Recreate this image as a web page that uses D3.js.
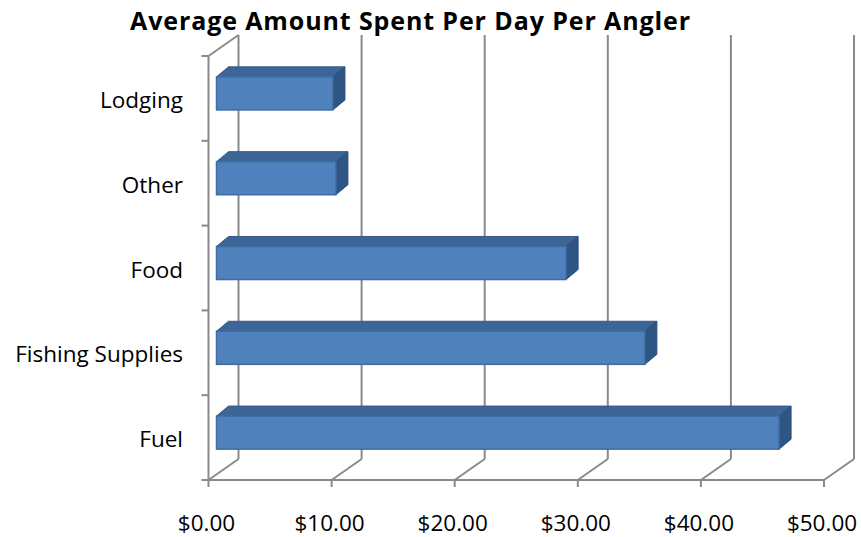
<!DOCTYPE html>
<html>
<head>
<meta charset="utf-8">
<script src="https://cdn.jsdelivr.net/npm/d3@7"></script>
<style>
  html, body { margin: 0; padding: 0; background: #fff; }
  svg { display: block; }
</style>
</head>
<body>
<svg id="chart" width="861" height="537"></svg>
<script>
const categories = ["Lodging", "Other", "Food", "Fishing Supplies", "Fuel"];
const values = [9.46, 9.7, 28.4, 34.8, 45.7];
const tickValues = [0, 10, 20, 30, 40, 50];
const tickLabels = ["$0.00", "$10.00", "$20.00", "$30.00", "$40.00", "$50.00"];
const title = "Average Amount Spent Per Day Per Angler";

const svg = d3.select("#chart");

const x = d3.scaleLinear().domain([0, 50]).range([208.5, 824]);
const y = d3.scaleBand().domain(categories).range([56, 480])
  .paddingInner(0.61).paddingOuter(0.305);

const wallDX = 30, wallDY = -21;     // depth of the back wall
const barOffX = 8, barOffY = -5;     // bar front face offset from the front plane
const barDX = 12, barDY = -10;       // bar depth

const gridColor = "#8a8a8a";
const font = "'Open Sans', 'DejaVu Sans', sans-serif";

const g = svg.append("g");

// back-wall gridlines
g.selectAll("line.grid").data(tickValues).join("line")
  .attr("class", "grid")
  .attr("x1", d => x(d) + wallDX).attr("x2", d => x(d) + wallDX)
  .attr("y1", y.range()[0] + wallDY).attr("y2", y.range()[1] + wallDY)
  .attr("stroke", gridColor).attr("stroke-width", 2);

// floor diagonals
g.selectAll("line.floor").data(tickValues).join("line")
  .attr("class", "floor")
  .attr("x1", d => x(d)).attr("y1", y.range()[1])
  .attr("x2", d => x(d) + wallDX).attr("y2", y.range()[1] + wallDY)
  .attr("stroke", gridColor).attr("stroke-width", 2);

// front floor edge
g.append("line")
  .attr("x1", x(0)).attr("x2", x(50))
  .attr("y1", y.range()[1]).attr("y2", y.range()[1])
  .attr("stroke", gridColor).attr("stroke-width", 2);

// x ticks
g.selectAll("line.xtick").data(tickValues).join("line")
  .attr("class", "xtick")
  .attr("x1", d => x(d)).attr("x2", d => x(d))
  .attr("y1", y.range()[1]).attr("y2", y.range()[1] + 7)
  .attr("stroke", gridColor).attr("stroke-width", 2);

// left wall
g.append("line")
  .attr("x1", x(0)).attr("x2", x(0))
  .attr("y1", y.range()[0]).attr("y2", y.range()[1])
  .attr("stroke", gridColor).attr("stroke-width", 2);
g.append("line")
  .attr("x1", x(0)).attr("y1", y.range()[0])
  .attr("x2", x(0) + wallDX).attr("y2", y.range()[0] + wallDY)
  .attr("stroke", gridColor).attr("stroke-width", 2);

// category boundary ticks on the left wall
const boundaries = categories.map(c => y(c) - y.step() * y.paddingInner() / 2);
boundaries.push(y.range()[1]);
g.selectAll("line.ytick").data(boundaries).join("line")
  .attr("class", "ytick")
  .attr("x1", x(0) - 7).attr("x2", x(0))
  .attr("y1", d => d).attr("y2", d => d)
  .attr("stroke", gridColor).attr("stroke-width", 2);

// bars
const bars = g.selectAll("g.bar").data(categories.map((c, i) => ({ c, v: values[i] })))
  .join("g").attr("class", "bar");

bars.each(function(d) {
  const sel = d3.select(this);
  const x0 = x(0) + barOffX, x1 = x(d.v) + barOffX;
  const y0 = y(d.c) + barOffY, y1 = y0 + y.bandwidth();
  // top face
  sel.append("polygon")
    .attr("points", [[x0, y0], [x0 + barDX, y0 + barDY], [x1 + barDX, y0 + barDY], [x1, y0]].join(" "))
    .attr("fill", "#3d6696").attr("stroke", "#345a86").attr("stroke-width", 1);
  // side face
  sel.append("polygon")
    .attr("points", [[x1, y0], [x1 + barDX, y0 + barDY], [x1 + barDX, y1 + barDY], [x1, y1]].join(" "))
    .attr("fill", "#2f5585").attr("stroke", "#2a4d79").attr("stroke-width", 1);
  // front face
  sel.append("rect")
    .attr("x", x0).attr("y", y0)
    .attr("width", x1 - x0).attr("height", y1 - y0)
    .attr("fill", "#4f81bd").attr("stroke", "#3e6ca3").attr("stroke-width", 1.5);
});

// category labels
g.selectAll("text.cat").data(categories).join("text")
  .attr("class", "cat")
  .attr("x", 183)
  .attr("y", d => y(d) + y.bandwidth() / 2 + 9.5)
  .attr("text-anchor", "end")
  .attr("font-family", font).attr("font-size", 22.5)
  .attr("fill", "#000")
  .text(d => d);

// x tick labels
g.selectAll("text.xlab").data(tickValues).join("text")
  .attr("class", "xlab")
  .attr("x", d => x(d) - 2)
  .attr("y", 531)
  .attr("text-anchor", "middle")
  .attr("font-family", font).attr("font-size", 22.5)
  .attr("fill", "#000")
  .text((d, i) => tickLabels[i]);

// title
svg.append("text")
  .attr("x", 130).attr("y", 29.5)
  .attr("textLength", 560).attr("lengthAdjust", "spacing")
  .attr("font-family", font).attr("font-size", 25).attr("font-weight", "bold")
  .attr("fill", "#000")
  .text(title);
</script>
</body>
</html>
